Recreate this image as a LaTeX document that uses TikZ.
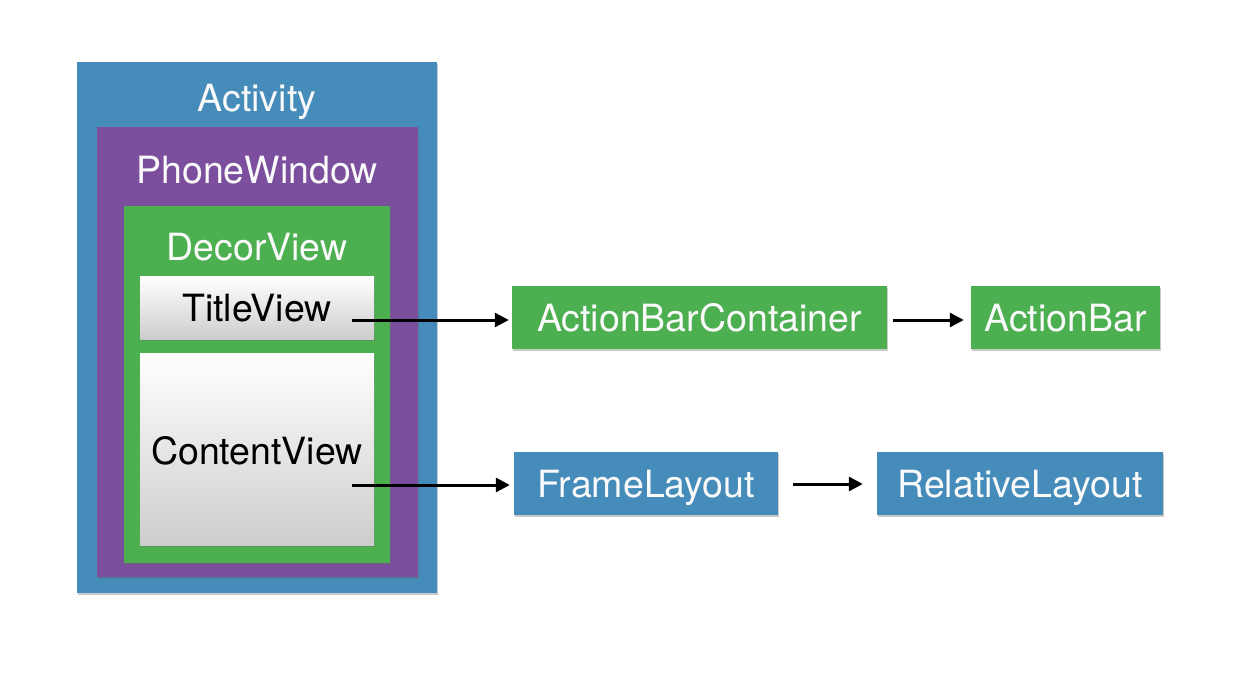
\documentclass[tikz,border=0pt]{standalone}
\usepackage{fontspec}
\setmainfont{TeX Gyre Heros}
\usetikzlibrary{arrows.meta,shadows}
\definecolor{cblue}{RGB}{70,140,186}
\definecolor{cpurple}{RGB}{123,79,157}
\definecolor{cgreen}{RGB}{76,175,80}
\definecolor{cgrayb}{RGB}{205,205,205}
\definecolor{ctext}{RGB}{250,250,250}
\tikzset{
  boxbase/.style={rectangle, inner sep=0pt, anchor=north west,
    drop shadow={shadow xshift=1pt, shadow yshift=-2pt, opacity=0.35, fill=black!60}},
  bluebox/.style={boxbase, fill=cblue},
  purplebox/.style={boxbase, fill=cpurple},
  greenbox/.style={boxbase, fill=cgreen},
  whitebox/.style={boxbase, shading=axis, top color=white, middle color=black!4, bottom color=cgrayb},
  lbl/.style={font=\fontsize{37.5}{40}\selectfont, text=ctext, inner sep=0pt, anchor=base},
  dlbl/.style={lbl, text=black},
  inbox/.style={font=\fontsize{37.5}{40}\selectfont, text=ctext, text height=27pt, text depth=0pt},
  conn/.style={line width=3pt, -{Triangle[length=14pt,width=14pt]}}
}
\begin{document}
\begin{tikzpicture}[x=1pt,y=-1pt]
\useasboundingbox (0,0) rectangle (1258,682);
\fill[white] (0,0) rectangle (1258,682);
% nested containers
\node[bluebox, minimum width=360pt, minimum height=531pt] (activity) at (77,62) {};
\node[lbl] (activitylbl) at (257,112) {Activity};
\node[purplebox, minimum width=321pt, minimum height=450pt] (phonewindow) at (97,127) {};
\node[lbl] (phonewindowlbl) at (257,183) {PhoneWindow};
\node[greenbox, minimum width=266pt, minimum height=357pt] (decorview) at (124,206) {};
\node[lbl] (decorviewlbl) at (257,260) {DecorView};
\node[whitebox, minimum width=234pt, minimum height=63pt] (titleview) at (140,276) {};
\node[dlbl] (titleviewlbl) at (257,321) {TitleView};
\node[whitebox, minimum width=234pt, minimum height=192pt] (contentview) at (140,353) {};
\node[dlbl] (contentviewlbl) at (257,464) {ContentView};
% right side boxes
\node[greenbox, inbox, minimum width=375pt, minimum height=63pt, anchor=center] (abc) at (699.5,317.5) {ActionBarContainer};
\node[greenbox, inbox, minimum width=189pt, minimum height=63pt, anchor=center] (ab) at (1065.5,317.5) {ActionBar};
\node[bluebox, inbox, minimum width=264pt, minimum height=63pt, anchor=center] (fl) at (646,483.5) {FrameLayout};
\node[bluebox, inbox, minimum width=286pt, minimum height=63pt, anchor=center] (rl) at (1020,483.5) {RelativeLayout};
% connectors
\coordinate (tvout) at (352,320);
\coordinate (cvout) at (352,485);
\draw[conn] (tvout) -- ([xshift=-3pt]tvout -| abc.west);
\draw[conn] (cvout) -- ([xshift=-4pt]cvout -| fl.west);
\draw[conn] ([xshift=6pt]abc.east |- tvout) -- ([xshift=-7pt]ab.west |- tvout);
\draw[conn] ([xshift=15pt]fl.east |- 0,484) -- ([xshift=-14pt]rl.west |- 0,484);
\end{tikzpicture}
\end{document}
